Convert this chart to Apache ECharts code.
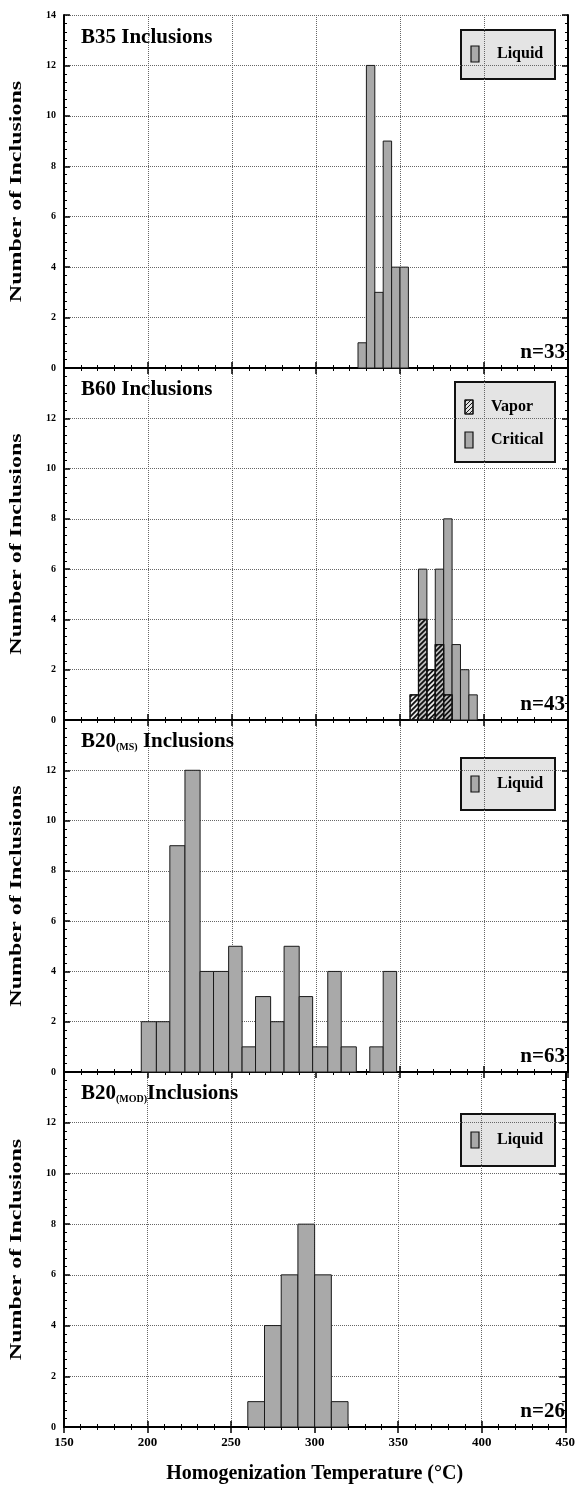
<!DOCTYPE html>
<html>
<head>
<meta charset="utf-8">
<script src="https://cdn.jsdelivr.net/npm/echarts@6/dist/echarts.min.js"></script>
<style>
html,body{margin:0;padding:0;background:#fff;}
#chart{width:578px;height:1488px;}
</style>
</head>
<body>
<div id="chart"></div>
<script>
// ---------- data ----------
const X_TICKS = [150, 200, 250, 300, 350, 400, 450];
const Y_TICKS = [0, 2, 4, 6, 8, 10, 12, 14];

const B35_EDGES = [325, 330, 335, 340, 345, 350, 355];
const B35_LIQUID = [1, 12, 3, 9, 4, 4];

const B60_EDGES = [356, 361, 366, 371, 376, 381, 386, 391, 396];
const B60_VAPOR = [1, 4, 2, 3, 1, 0, 0, 0];
const B60_CRITICAL = [0, 6, 0, 6, 8, 3, 2, 1];

const B20MS_EDGES = [196, 205, 213, 222, 231, 239, 248, 256, 264, 273, 281, 290, 298, 307, 315, 324, 332, 340, 348];
const B20MS_LIQUID = [2, 2, 9, 12, 4, 4, 5, 1, 3, 2, 5, 3, 1, 4, 1, 0, 1, 4];

const B20MOD_EDGES = [260, 270, 280, 290, 300, 310, 320];
const B20MOD_LIQUID = [1, 4, 6, 8, 6, 1];

const N_LABELS = ['n=33', 'n=43', 'n=63', 'n=26'];

// ---------- layout ----------
const SERIF = '"Liberation Serif","DejaVu Serif",serif';
const LEFT = 64, RIGHT_EDGE = 568;
const PANELS = [
  {top: 15, bottom: 368},
  {top: 368, bottom: 720},
  {top: 720, bottom: 1072},
  {top: 1072, bottom: 1427}
];
const GRAY = '#a9a9a9';

function bins(edges, counts) {
  return counts.map((c, i) => [edges[i], edges[i + 1], c]);
}

function hatchLines(x0, y0, x1, y1, step, width) {
  const out = [];
  for (let k = x0 + y0 + 2; k < x1 + y1; k += step) {
    const lo = Math.max(x0, k - y1), hi = Math.min(x1, k - y0);
    if (hi > lo) {
      out.push({
        type: 'line',
        shape: {x1: lo, y1: k - lo, x2: hi, y2: k - hi},
        style: {stroke: '#111', lineWidth: width}
      });
    }
  }
  return out;
}

function plainBar(fill) {
  return function (params, api) {
    const c = api.value(2);
    if (!c) return null;
    const p0 = api.coord([api.value(0), c]);
    const p1 = api.coord([api.value(1), 0]);
    return {
      type: 'rect',
      shape: {x: p0[0], y: p0[1], width: p1[0] - p0[0], height: p1[1] - p0[1]},
      style: {fill: fill, stroke: '#1a1a1a', lineWidth: 1}
    };
  };
}

function hatchBar(params, api) {
  const c = api.value(2);
  if (!c) return null;
  const p0 = api.coord([api.value(0), c]);
  const p1 = api.coord([api.value(1), 0]);
  const x0 = p0[0], y0 = p0[1], x1 = p1[0], y1 = p1[1];
  const children = [{
    type: 'rect',
    shape: {x: x0, y: y0, width: x1 - x0, height: y1 - y0},
    style: {fill: 'rgba(215,215,215,0.5)', stroke: '#1a1a1a', lineWidth: 1}
  }].concat(hatchLines(x0, y0, x1, y1, 5, 1.8));
  children.push({
    type: 'rect',
    shape: {x: x0, y: y0, width: x1 - x0, height: y1 - y0},
    style: {fill: 'none', stroke: '#111', lineWidth: 1.2}
  });
  return {type: 'group', children: children};
}

const grids = [], xAxes = [], yAxes = [], series = [], graphics = [];

PANELS.forEach((p, i) => {
  grids.push({left: LEFT, top: p.top, width: RIGHT_EDGE - LEFT, height: p.bottom - p.top});
  const axisLine = {show: true, lineStyle: {color: '#000', width: 2}};
  const xBase = {
    gridIndex: i, type: 'value', min: X_TICKS[0], max: X_TICKS[X_TICKS.length - 1], interval: 50,
    axisLine: axisLine,
    axisTick: {show: true, inside: true, length: 6, lineStyle: {color: '#000', width: 1.5}},
    minorTick: {show: true, splitNumber: 5, length: 3, lineStyle: {color: '#000'}}
  };
  xAxes.push(Object.assign({}, xBase, {
    position: 'bottom',
    axisLabel: {show: i === 3, fontFamily: SERIF, fontWeight: 'bold', fontSize: 13, color: '#000', margin: 9},
    splitLine: {show: true, lineStyle: {type: 'dotted', color: '#666', width: 1}},
    name: i === 3 ? 'Homogenization Temperature (°C)' : '',
    nameLocation: 'middle', nameGap: 37,
    nameTextStyle: {fontFamily: SERIF, fontWeight: 'bold', fontSize: 20, color: '#000'}
  }));
  xAxes.push(Object.assign({}, xBase, {
    position: 'top', axisLabel: {show: false}, splitLine: {show: false}
  }));
  const yBase = {
    gridIndex: i, type: 'value', min: Y_TICKS[0], max: Y_TICKS[Y_TICKS.length - 1], interval: 2,
    axisLine: axisLine,
    axisTick: {show: true, inside: true, length: 6, lineStyle: {color: '#000', width: 1.5}},
    minorTick: {show: true, splitNumber: 6, length: 3, lineStyle: {color: '#000'}}
  };
  yAxes.push(Object.assign({}, yBase, {
    position: 'left',
    axisLabel: {show: true, showMaxLabel: i === 0, fontFamily: SERIF, fontWeight: 'bold', fontSize: 10, color: '#000', margin: 8},
    splitLine: {show: true, lineStyle: {type: 'dotted', color: '#666', width: 1}}
  }));
  yAxes.push(Object.assign({}, yBase, {
    position: 'right', axisLabel: {show: false}, splitLine: {show: false}
  }));

  // y-axis title (stretched along its length like the reference)
  graphics.push({
    type: 'text', x: 17, y: (p.top + p.bottom) / 2, rotation: Math.PI / 2, scaleX: 1.5, z: 100,
    style: {text: 'Number of Inclusions', font: 'bold 16px ' + SERIF, fill: '#000', align: 'center', verticalAlign: 'middle'}
  });

  // n= label
  graphics.push({
    type: 'text', right: 578 - 565, top: p.bottom - 26, z: 100,
    style: {text: N_LABELS[i], font: 'bold 21px ' + SERIF, fill: '#000'}
  });
});

function addSeries(name, data, panel, renderItem, z) {
  series.push({
    type: 'custom', name: name, coordinateSystem: 'cartesian2d',
    xAxisIndex: panel * 2, yAxisIndex: panel * 2,
    renderItem: renderItem, encode: {x: [0, 1], y: 2},
    data: data, z: z || 2, silent: true
  });
}

addSeries('Liquid', bins(B35_EDGES, B35_LIQUID), 0, plainBar(GRAY));
addSeries('Critical', bins(B60_EDGES, B60_CRITICAL), 1, plainBar(GRAY));
addSeries('Vapor', bins(B60_EDGES, B60_VAPOR), 1, hatchBar, 3);
addSeries('Liquid', bins(B20MS_EDGES, B20MS_LIQUID), 2, plainBar(GRAY));
addSeries('Liquid', bins(B20MOD_EDGES, B20MOD_LIQUID), 3, plainBar(GRAY));

// titles
const titleRich = {
  b: {font: 'bold 21px ' + SERIF, fill: '#000'},
  s: {font: 'bold 10px ' + SERIF, fill: '#000', padding: [12, 0, 0, 0]}
};
graphics.push({type: 'text', left: 81, top: 27, z: 100, style: {text: '{b|B35 Inclusions}', rich: titleRich}});
graphics.push({type: 'text', left: 81, top: 379, z: 100, style: {text: '{b|B60 Inclusions}', rich: titleRich}});
graphics.push({type: 'text', left: 81, top: 731, z: 100, style: {text: '{b|B20}{s|(MS)}{b| Inclusions}', rich: titleRich}});
graphics.push({type: 'text', left: 81, top: 1083, z: 100, style: {text: '{b|B20}{s|(MOD)}{b|Inclusions}', rich: titleRich}});

// legends
function legendBox(x, y, w, h, items) {
  const children = [{
    type: 'rect', shape: {x: 0, y: 0, width: w, height: h},
    style: {fill: '#e4e4e4', stroke: '#111', lineWidth: 2}
  }];
  items.forEach((it) => {
    if (it.hatch) {
      children.push({type: 'rect', shape: {x: 10, y: it.y - 7, width: 8, height: 14}, style: {fill: '#e0e0e0', stroke: '#111', lineWidth: 1}});
      hatchLines(10, it.y - 7, 18, it.y + 7, 4, 1).forEach((l) => children.push(l));
      children.push({type: 'rect', shape: {x: 10, y: it.y - 7, width: 8, height: 14}, style: {fill: 'none', stroke: '#111', lineWidth: 1.2}});
    } else {
      children.push({type: 'rect', shape: {x: 10, y: it.y - 8, width: 8, height: 16}, style: {fill: GRAY, stroke: '#111', lineWidth: 1.2}});
    }
    children.push({
      type: 'text', x: 36, y: it.y,
      style: {text: it.label, font: 'bold 16px ' + SERIF, fill: '#000', verticalAlign: 'middle'}
    });
  });
  graphics.push({type: 'group', x: x, y: y, z: 100, children: children});
}
legendBox(461, 30, 94, 49, [{label: 'Liquid', y: 24}]);
legendBox(455, 382, 100, 80, [{label: 'Vapor', y: 25, hatch: true}, {label: 'Critical', y: 58}]);
legendBox(461, 758, 94, 52, [{label: 'Liquid', y: 26}]);
legendBox(461, 1114, 94, 52, [{label: 'Liquid', y: 26}]);

const chart = echarts.init(document.getElementById('chart'), null, {renderer: 'canvas'});
chart.setOption({
  animation: false,
  backgroundColor: '#fff',
  grid: grids,
  xAxis: xAxes,
  yAxis: yAxes,
  series: series,
  graphic: graphics
});
</script>
</body>
</html>
